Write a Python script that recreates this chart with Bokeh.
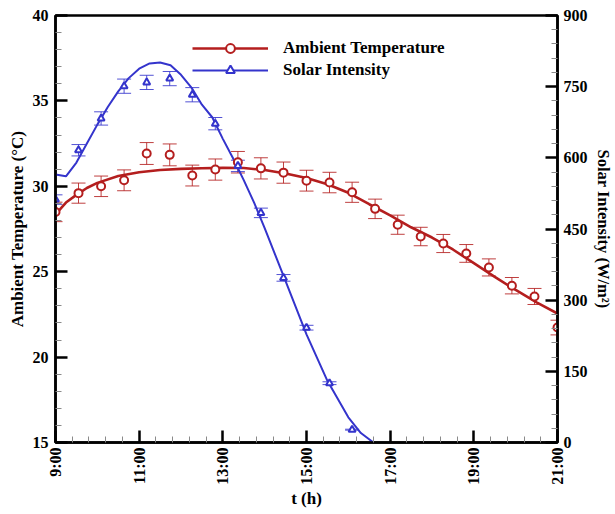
from bokeh.plotting import figure
from bokeh.models import (Range1d, LinearAxis, FixedTicker, Whisker, TeeHead,
                          ColumnDataSource, Legend, LegendItem)
from bokeh.embed import file_html
from bokeh.resources import INLINE

# ---- data (hours of day) ----
t_obs = [9.00, 9.55, 10.09, 10.64, 11.18, 11.73, 12.27, 12.82, 13.36, 13.91,
         14.45, 15.00, 15.55, 16.09, 16.64, 17.18, 17.73, 18.27, 18.82, 19.36,
         19.91, 20.45, 21.00]
temp = [28.50, 29.60, 30.00, 30.35, 31.92, 31.84, 30.63, 30.98, 31.41, 31.05,
        30.80, 30.33, 30.22, 29.65, 28.68, 27.75, 27.06, 26.65, 26.07, 25.25,
        24.18, 23.55, 21.73]
temp_err = [0.57, 0.59, 0.60, 0.61, 0.64, 0.64, 0.61, 0.62, 0.63, 0.62,
            0.62, 0.61, 0.60, 0.59, 0.57, 0.56, 0.54, 0.53, 0.52, 0.50,
            0.48, 0.47, 0.43]

t_sol = [9.00, 9.55, 10.09, 10.64, 11.18, 11.73, 12.27, 12.82, 13.36, 13.91,
         14.45, 15.00, 15.55, 16.09]
solar = [512, 616, 683, 751, 759, 767, 733, 672, 583, 484, 347, 242, 125, 27]
solar_err = [10, 12, 14, 15, 15, 15, 15, 13, 12, 10, 7, 5, 3, 1]

# fitted curves
t_temp_fit = [9.0, 9.25, 9.5, 9.75, 10.0, 10.5, 11.0, 11.5, 12.0, 12.5, 13.0,
              13.5, 14.0, 14.5, 15.0, 15.5, 16.0, 16.5, 17.0, 17.5, 18.0, 18.5,
              19.0, 19.5, 20.0, 20.5, 21.0]
temp_fit = [28.35, 29.05, 29.50, 29.90, 30.20, 30.60, 30.82, 30.95, 31.02, 31.06,
            31.08, 31.07, 30.95, 30.75, 30.48, 30.12, 29.62, 28.95, 28.30, 27.60,
            27.00, 26.30, 25.50, 24.70, 23.93, 23.20, 22.55]

t_sol_fit = [9.0, 9.25, 9.5, 9.75, 10.0, 10.25, 10.5, 10.75, 11.0, 11.25, 11.5,
             11.75, 12.0, 12.25, 12.5, 12.75, 13.0, 13.25, 13.5, 13.75, 14.0,
             14.5, 15.0, 15.5, 16.0, 16.3, 16.6]
solar_fit = [565, 561, 590, 630, 670, 707, 740, 768, 788, 799, 801,
             795, 775, 748, 712, 685, 640, 598, 553, 505, 452,
             340, 228, 130, 53, 20, 0]

x_ticks = [9, 11, 13, 15, 17, 19, 21]
x_tick_labels = ["9:00", "11:00", "13:00", "15:00", "17:00", "19:00", "21:00"]
x_minor = [9.4, 9.8, 10.2, 10.6, 11.4, 11.8, 12.2, 12.6, 13.4, 13.8, 14.2, 14.6,
           15.4, 15.8, 16.2, 16.6, 17.4, 17.8, 18.2, 18.6, 19.4, 19.8, 20.2, 20.6]
y_ticks = [15, 20, 25, 30, 35, 40]
y_minor = [16, 17, 18, 19, 21, 22, 23, 24, 26, 27, 28, 29, 31, 32, 33, 34, 36, 37, 38, 39]
y2_ticks = [0, 150, 300, 450, 600, 750, 900]
y2_minor = [30, 60, 90, 120, 180, 210, 240, 270, 330, 360, 390, 420, 480, 510, 540,
            570, 630, 660, 690, 720, 780, 810, 840, 870]

RED = "#B41E1E"
BLUE = "#3434CC"
FONT = "Liberation Serif"

p = figure(width=615, height=514, output_backend="svg", toolbar_location=None,
           x_range=Range1d(9, 21), y_range=Range1d(15, 40),
           min_border_left=55, min_border_right=56, min_border_top=15,
           min_border_bottom=72)
p.extra_y_ranges = {"solar": Range1d(0, 900)}
p.grid.visible = False
p.outline_line_color = "black"
p.outline_line_width = 2.5
p.background_fill_color = "white"
p.border_fill_color = "white"


def style_axis(ax, label_size="17px"):
    ax.axis_line_width = 2.5
    ax.axis_line_color = "black"
    ax.major_tick_in = 12
    ax.major_tick_out = 0
    ax.major_tick_line_width = 2.5
    ax.minor_tick_in = 6
    ax.minor_tick_out = 0
    ax.minor_tick_line_color = "#8a8a8a"
    ax.minor_tick_line_width = 1
    ax.major_label_text_font = FONT
    ax.major_label_text_font_style = "bold"
    ax.major_label_text_font_size = "16px"
    ax.major_label_text_color = "black"
    ax.axis_label_text_font = FONT
    ax.axis_label_text_font_style = "bold"
    ax.axis_label_text_font_size = label_size
    ax.axis_label_text_color = "black"


xa = p.xaxis[0]
xa.ticker = FixedTicker(ticks=x_ticks, minor_ticks=x_minor)
xa.major_label_overrides = {t: s for t, s in zip(x_ticks, x_tick_labels)}
xa.major_label_orientation = 3.14159265 / 2
xa.axis_label = "t (h)"
style_axis(xa)
xa.axis_label_standoff = 1
xa.major_label_standoff = 5

ya = p.yaxis[0]
ya.ticker = FixedTicker(ticks=y_ticks, minor_ticks=y_minor)
ya.axis_label = "Ambient Temperature (°C)"
style_axis(ya)
ya.axis_label_standoff = 3
ya.major_label_standoff = 7

y2 = LinearAxis(y_range_name="solar")
y2.ticker = FixedTicker(ticks=y2_ticks, minor_ticks=y2_minor)
y2.axis_label = "Solar Intensity (W/m²)"
style_axis(y2, "16.5px")
y2.axis_label_standoff = 3
y2.major_label_standoff = 6
p.add_layout(y2, "right")

# error bars
src_t = ColumnDataSource(dict(t=t_obs, upper=[v + e for v, e in zip(temp, temp_err)],
                              lower=[v - e for v, e in zip(temp, temp_err)]))
src_s = ColumnDataSource(dict(t=t_sol, upper=[v + e for v, e in zip(solar, solar_err)],
                              lower=[v - e for v, e in zip(solar, solar_err)]))
wt = Whisker(base="t", upper="upper", lower="lower", source=src_t, dimension="height",
             line_color=RED, line_width=1, line_alpha=0.85,
             upper_head=TeeHead(size=14, line_color=RED, line_width=1, line_alpha=0.85),
             lower_head=TeeHead(size=14, line_color=RED, line_width=1, line_alpha=0.85))
ws = Whisker(base="t", upper="upper", lower="lower", source=src_s, dimension="height",
             y_range_name="solar",
             line_color=BLUE, line_width=1, line_alpha=0.85,
             upper_head=TeeHead(size=14, line_color=BLUE, line_width=1, line_alpha=0.85),
             lower_head=TeeHead(size=14, line_color=BLUE, line_width=1, line_alpha=0.85))
p.add_layout(wt)
p.add_layout(ws)

red_line = p.line(t_temp_fit, temp_fit, line_color=RED, line_width=2.6)
blue_line = p.line(t_sol_fit, solar_fit, line_color=BLUE, line_width=2,
                   y_range_name="solar")
red_pts = p.scatter(t_obs, temp, marker="circle", size=8, line_color=RED,
                    line_width=2, fill_color="white")
blue_pts = p.scatter(t_sol, solar, marker="triangle", size=7, line_color=BLUE,
                     line_width=2, fill_color="white", y_range_name="solar")

legend = Legend(items=[LegendItem(label="Ambient Temperature", renderers=[red_line, red_pts]),
                       LegendItem(label="Solar Intensity", renderers=[blue_line, blue_pts])],
                location=(137, 361), padding=0, margin=0, spacing=0,
                glyph_width=76, glyph_height=22, label_height=22, label_standoff=15,
                label_text_font=FONT, label_text_font_style="bold",
                label_text_font_size="17px", label_text_color="black",
                background_fill_alpha=0, border_line_alpha=0)
p.add_layout(legend)

open("out.html", "w").write(file_html(p, INLINE))
